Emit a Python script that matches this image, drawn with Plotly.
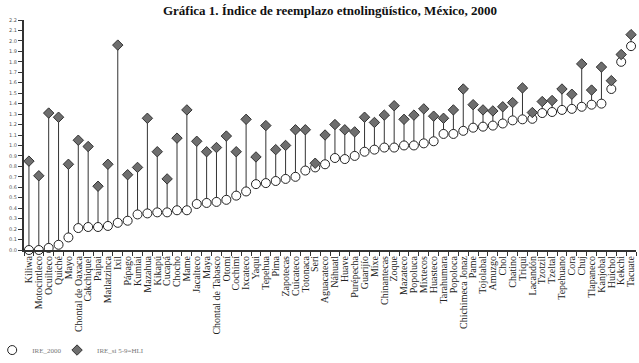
import plotly.graph_objects as go

categories = ["Kiliwa", "Motocintleco", "Ocuilteco", "Quiché", "Mayo", "Chontal de Oaxaca",
              "Cakchiquel", "Paipai", "Matlatzinca", "Ixil", "Pápago", "Kumiai", "Mazahua",
              "Kikapú", "Cucapá", "Chocho", "Mame", "Jacalteco", "Maya", "Chontal de Tabasco",
              "Otomí", "Cochimí", "Ixcateco", "Yaqui", "Tepehua", "Pima", "Zapotecas",
              "Cuicateco", "Totonaca", "Seri", "Aguacateco", "Náhuatl", "Huave", "Purépecha",
              "Guarijío", "Mixe", "Chinantecas", "Zoque", "Mazateco", "Popoluca", "Mixtecos",
              "Huasteco", "Tarahumara", "Popoloca", "Chichimeca Jonaz", "Pame", "Tojolabal",
              "Amuzgo", "Chol", "Chatino", "Triqui", "Lacandón", "Tzotzil", "Tzeltal",
              "Tepehuano", "Cora", "Chuj", "Tlapaneco", "Kanjobal", "Huichol", "Kekchi", "Tacuate"]

ire_2000 = [0.00, 0.00, 0.02, 0.05, 0.12, 0.21, 0.22, 0.22, 0.23, 0.26, 0.28, 0.34, 0.35,
            0.36, 0.36, 0.38, 0.38, 0.44, 0.45, 0.46, 0.48, 0.52, 0.56, 0.63, 0.64, 0.66,
            0.68, 0.70, 0.76, 0.79, 0.82, 0.88, 0.87, 0.90, 0.94, 0.96, 0.98, 0.98, 1.00,
            1.00, 1.02, 1.04, 1.11, 1.11, 1.14, 1.17, 1.18, 1.19, 1.21, 1.24, 1.25, 1.255,
            1.31, 1.32, 1.34, 1.35, 1.37, 1.39, 1.40, 1.54, 1.80, 1.95]

ire_si = [0.85, 0.71, 1.31, 1.27, 0.82, 1.05, 0.99, 0.61, 0.82, 1.96, 0.72, 0.79, 1.26,
          0.94, 0.68, 1.07, 1.34, 1.04, 0.94, 0.98, 1.09, 0.94, 1.25, 0.89, 1.19, 0.96,
          1.00, 1.15, 1.15, 0.83, 1.10, 1.20, 1.15, 1.13, 1.27, 1.22, 1.29, 1.38, 1.25,
          1.29, 1.35, 1.28, 1.26, 1.34, 1.54, 1.39, 1.34, 1.33, 1.37, 1.41, 1.55, 1.315,
          1.42, 1.43, 1.54, 1.49, 1.78, 1.53, 1.75, 1.62, 1.87, 2.06]

series_names = ["IRE_2000", "IRE_si 5-9=HLI"]
title_text = "Gráfica 1. Índice de reemplazo etnolingüístico, México, 2000"

lx, ly = [], []
for c, a, b in zip(categories, ire_2000, ire_si):
    lx += [c, c, None]
    ly += [a, b, None]

fig = go.Figure()
fig.add_trace(go.Scatter(x=lx, y=ly, mode="lines", line=dict(color="#333333", width=1),
                         showlegend=False, hoverinfo="skip", cliponaxis=False))
fig.add_trace(go.Scatter(x=categories, y=ire_2000, mode="markers", name=series_names[0],
                         marker=dict(symbol="circle", size=9, color="white",
                                     line=dict(color="#222222", width=1)),
                         cliponaxis=False, legend="legend"))
fig.add_trace(go.Scatter(x=categories, y=ire_si, mode="markers", name=series_names[1],
                         marker=dict(symbol="diamond", size=8, color="#6e6e6e",
                                     line=dict(color="#333333", width=1)),
                         cliponaxis=False, legend="legend2"))

legend_font = dict(family="Liberation Serif", size=7, color="#777777")

fig.update_layout(
    width=639, height=363,
    margin=dict(l=24, r=3, t=20, b=113, autoexpand=False),
    paper_bgcolor="white", plot_bgcolor="white",
    title=dict(text=title_text, x=0.5, xref="paper", y=0.985, yanchor="top",
               font=dict(family="Liberation Serif", size=13, color="#111111", weight="bold")),
    showlegend=True,
    legend=dict(orientation="h", x=-0.052, xanchor="left", y=-0.435, yanchor="middle",
                font=legend_font, bgcolor="rgba(0,0,0,0)"),
    legend2=dict(orientation="h", x=0.054, xanchor="left", y=-0.435, yanchor="middle",
                 font=legend_font, bgcolor="rgba(0,0,0,0)"),
    xaxis=dict(type="category", categoryorder="array", categoryarray=categories,
               range=[-0.5, len(categories) - 0.5], tickson="boundaries",
               tickmode="array", tickvals=categories, ticktext=categories,
               automargin=False,
               showline=True, linecolor="#333333", linewidth=2,
               ticks="outside", ticklen=4, tickcolor="#333333", tickwidth=1,
               tickangle=-90, showgrid=False, zeroline=False,
               tickfont=dict(family="Liberation Serif", size=10, color="#222222")),
    yaxis=dict(range=[0, 2.2], dtick=0.1, tickformat=".1f", automargin=False,
               showline=True, linecolor="#333333", linewidth=2,
               ticks="outside", ticklen=4, tickcolor="#333333", tickwidth=1,
               showgrid=False, zeroline=False,
               tickfont=dict(family="DejaVu Sans", size=5, color="#555555")),
)

fig.write_html("out.html", config={"displayModeBar": False},
               post_script="document.body.style.margin='0';document.body.style.overflow='hidden';")
